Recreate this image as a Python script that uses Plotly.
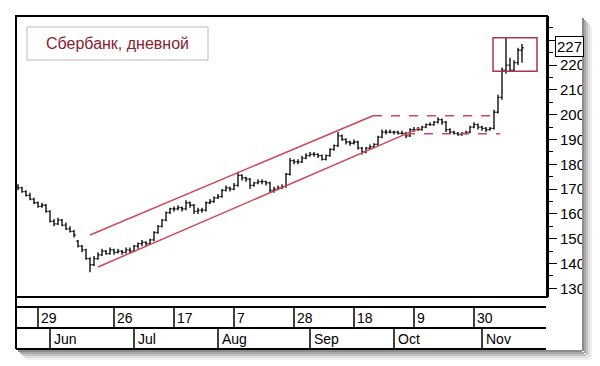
import plotly.graph_objects as go
import pandas as pd

# ---------------- data ----------------
holidays = ["2017-06-12", "2017-11-06"]
dates = [d.strftime("%Y-%m-%d") for d in pd.bdate_range("2017-05-22", "2017-11-16")
         if d.strftime("%Y-%m-%d") not in holidays]

open_ = [171, 170.5, 169, 167.5, 166, 164.5, 163, 163.5, 161, 157,
         156, 157.5, 155.5, 154, 153, 149, 147, 145.5, 142, 139.5,
         142, 143.5, 145, 144, 145.5, 144.5, 145, 144.5, 145.5, 145,
         147, 148, 148.5, 148, 149.5, 152.5, 155, 157.5, 160.5, 162,
         162, 162.5, 162, 164.5, 163.5, 161, 161.5, 161.5, 164.5, 165,
         166.5, 167, 169.5, 170.5, 170, 171.5, 175.5, 174.5, 174, 171.5,
         172.5, 173, 173, 172.5, 169.5, 170, 170.5, 171, 176, 181.5,
         181, 181, 182.5, 183.5, 184, 184, 183.5, 182, 183.5, 186,
         187.5, 191.5, 190, 189, 188.5, 189, 186.5, 185, 186.5, 187,
         188, 191, 193, 193, 193, 193, 192.5, 192.5, 191.5, 194,
         194, 194, 195, 196, 196, 197, 198, 197, 194, 193,
         192.5, 192, 192.5, 193, 195, 196, 195, 194.5, 194, 194.5,
         201, 207, 218, 220, 218, 221, 226]
high = [172, 171, 169.5, 168.5, 166.5, 165, 164.5, 164, 161.5, 158,
        158.5, 158, 156.5, 155, 153.5, 149.5, 147.5, 146, 142.5, 143,
        144.5, 146, 145.5, 146.5, 146, 146, 145.5, 146.5, 146.5, 147.5,
        148.5, 149.5, 149, 150, 153, 155.5, 158, 161, 162.5, 163,
        163.5, 163, 165.5, 165, 164, 162.5, 162.5, 165, 166, 167,
        168, 170, 171.5, 171, 172.5, 177, 176, 175, 174.5, 173,
        174, 174, 173.5, 173, 171, 171.5, 172, 176.5, 182.5, 182,
        182, 183.5, 184.5, 185, 185, 184.5, 184, 184, 186.5, 188,
        193, 192, 190.5, 189.5, 190, 189.5, 187, 187, 188, 188.5,
        191.5, 194, 194, 194, 193.5, 193.5, 193.5, 193, 194.5, 195,
        195, 195.5, 196.5, 197, 197.5, 199, 198.5, 197.5, 194.5, 193.5,
        193, 193, 193.5, 195.5, 197, 196.5, 195.5, 195, 195, 202,
        208, 219, 231, 223, 222, 227, 228.5]
low = [169.5, 168.5, 167, 165.5, 164, 162.5, 162.5, 160.5, 156.5, 155,
       155.5, 155, 153.5, 152.5, 150.5, 146.5, 144.5, 141.5, 136.5, 139,
       141.5, 143, 143.5, 143.5, 143.5, 144, 143.5, 144, 144, 144.5,
       146, 147, 147, 147.5, 149, 152, 154.5, 157, 160, 161,
       161.5, 161, 161.5, 162.5, 160, 160, 160.5, 161, 164, 164.5,
       166, 166.5, 169, 169, 169.5, 171, 173.5, 173, 170, 171,
       172, 172, 171.5, 168.5, 168.5, 169.5, 170, 170.5, 175.5, 180,
       180, 180.5, 182, 183, 183, 182.5, 181.5, 181.5, 183, 185.5,
       187, 189.5, 188, 187.5, 188, 186, 184, 184.5, 186, 186.5,
       187.5, 190.5, 192, 192.5, 192, 192, 192, 190.5, 191, 193,
       193.5, 193.5, 194.5, 195.5, 195.5, 196.5, 196, 193, 192.5, 192,
       191.5, 191.5, 192, 192.5, 194.5, 194, 193.5, 193, 193.5, 194,
       200.5, 206, 216.5, 217.5, 217.5, 220, 221]
close = [170.5, 169, 167.5, 166, 164.5, 163, 163.5, 161, 157, 156,
         157.5, 155.5, 154, 153, 151.5, 147, 145.5, 142, 139.5, 142,
         143.5, 145, 144, 145.5, 144.5, 145, 144.5, 145.5, 145, 147,
         148, 148.5, 148, 149.5, 152.5, 155, 157.5, 160.5, 162, 162,
         162.5, 162, 164.5, 163.5, 161, 161.5, 161.5, 164.5, 165, 166.5,
         167, 169.5, 170.5, 170, 171.5, 175.5, 174.5, 174, 171.5, 172.5,
         173, 173, 172.5, 169.5, 170, 170.5, 171, 176, 181.5, 181,
         181, 182.5, 183.5, 184, 184, 183.5, 182, 183.5, 186, 187.5,
         191.5, 190, 189, 188.5, 189, 186.5, 185, 186.5, 187, 188,
         191, 193, 193, 193, 193, 192.5, 192.5, 191.5, 194, 194,
         194, 195, 196, 196, 197, 198, 197, 194, 193, 192.5,
         192, 192.5, 193, 195, 196, 195, 194.5, 194, 194.5, 201,
         207, 218, 220, 218, 221, 226, 227]

# price scale labels (230 is hidden behind the last-price box)
price_ticks = [130, 140, 150, 160, 170, 180, 190, 200, 210, 220, 230]
price_tick_labels = ["130", "140", "150", "160", "170", "180", "190", "200", "210", "220", ""]

# date scale labels
day_tick_dates = ["2017-05-29", "2017-06-26", "2017-07-17", "2017-08-07",
                  "2017-08-28", "2017-09-18", "2017-10-09", "2017-10-30"]
day_tick_labels = ["29", "26", "17", "7", "28", "18", "9", "30"]
month_tick_dates = ["2017-06-01", "2017-07-03", "2017-08-01", "2017-09-01",
                    "2017-10-02", "2017-11-01"]
month_tick_labels = ["Jun", "Jul", "Aug", "Sep", "Oct", "Nov"]

# drawn studies (bar index, price)
upper_channel = [(18, 151.5), (88.75, 199.6)]
lower_channel = [(20, 138.6), (100.5, 194.7)]
resistance = [(88.75, 199.6), (119.25, 199.6)]
support = [(97, 192.3), (120.5, 192.3)]
breakout_box = [(118.75, 217.5), (129.75, 231.0)]
last_price = 227
title_text = "Сбербанк, дневной"

# ---------------- figure ----------------
L, R, T, B = 16, 547, 16, 297   # plot area in pixels
W, H = 600, 366


def px(x):
    return (x - L) / (R - L)


def py(y):
    return (B - y) / (B - T)


RED = "#cc4a5c"
FONT = "Liberation Sans, Arial, sans-serif"

fig = go.Figure()
fig.add_trace(go.Ohlc(
    x=dates, open=open_, high=high, low=low, close=close,
    increasing=dict(line=dict(color="black", width=1.3)),
    decreasing=dict(line=dict(color="black", width=1.3)),
    tickwidth=0.4, hoverinfo="skip", showlegend=False,
))

shapes = []
for (p0, p1), dash in [((upper_channel[0], upper_channel[1]), "solid"),
                       ((lower_channel[0], lower_channel[1]), "solid"),
                       ((resistance[0], resistance[1]), "dash"),
                       ((support[0], support[1]), "dash")]:
    shapes.append(dict(type="line", xref="x", yref="y", x0=p0[0], y0=p0[1],
                       x1=p1[0], y1=p1[1],
                       line=dict(color=RED, width=1.5, dash=dash)))
shapes.append(dict(type="rect", xref="x", yref="y",
                   x0=breakout_box[0][0], y0=breakout_box[0][1],
                   x1=breakout_box[1][0], y1=breakout_box[1][1],
                   line=dict(color="#a8374a", width=1.5)))

# plot frame
shapes.append(dict(type="rect", xref="paper", yref="paper", x0=0, y0=0, x1=1, y1=1,
                   line=dict(color="black", width=2), layer="above"))
# title box
shapes.append(dict(type="rect", xref="paper", yref="paper",
                   x0=px(27), x1=px(208), y0=py(60), y1=py(27),
                   line=dict(color="#c4b6b9", width=1), layer="above"))

# date panel
for yy in (307, 328, 349):
    shapes.append(dict(type="line", xref="paper", yref="paper",
                       x0=px(16), x1=px(546), y0=py(yy), y1=py(yy),
                       line=dict(color="black", width=2)))
shapes.append(dict(type="line", xref="paper", yref="paper",
                   x0=0, x1=0, y0=py(349), y1=0,
                   line=dict(color="black", width=2)))
annotations = []
for d, lab in zip(day_tick_dates, day_tick_labels):
    i = dates.index(d)
    shapes.append(dict(type="line", xref="x", yref="paper", x0=i, x1=i,
                       y0=py(328), y1=py(307), line=dict(color="black", width=1.5)))
    annotations.append(dict(xref="x", yref="paper", x=i, y=py(318), text=lab,
                            xanchor="left", yanchor="middle", xshift=1,
                            showarrow=False, font=dict(family=FONT, size=14, color="black")))
for d, lab in zip(month_tick_dates, month_tick_labels):
    i = dates.index(d)
    shapes.append(dict(type="line", xref="x", yref="paper", x0=i, x1=i,
                       y0=py(349), y1=py(328), line=dict(color="black", width=1.5)))
    annotations.append(dict(xref="x", yref="paper", x=i, y=py(339), text=lab,
                            xanchor="left", yanchor="middle", xshift=2,
                            showarrow=False, font=dict(family=FONT, size=14, color="black")))

# window edge (clips axis labels) and drop shadow
shapes.append(dict(type="rect", xref="paper", yref="paper",
                   x0=px(582), x1=px(601), y0=py(367), y1=py(-1),
                   fillcolor="white", line=dict(width=0), layer="above"))
shapes.append(dict(type="rect", xref="paper", yref="paper",
                   x0=px(-1), x1=px(601), y0=py(367), y1=py(350),
                   fillcolor="white", line=dict(width=0), layer="above"))
for k, col in enumerate(["#8c8c8c", "#a8a8a8", "#c4c4c4", "#dedede", "#efefef"]):
    shapes.append(dict(type="rect", xref="paper", yref="paper",
                       x0=px(582 + 2 * k), x1=px(584 + 2 * k), y0=py(351 + 2 * k), y1=py(18 + 2 * k),
                       fillcolor=col, line=dict(width=0), layer="above"))
    shapes.append(dict(type="rect", xref="paper", yref="paper",
                       x0=px(18 + 2 * k), x1=px(582 + 2 * k), y0=py(352 + 2 * k), y1=py(350 + 2 * k),
                       fillcolor=col, line=dict(width=0), layer="above"))

annotations.append(dict(xref="paper", yref="paper", x=px(117.5), y=py(43.5),
                        xanchor="center", yanchor="middle",
                        text=title_text, showarrow=False,
                        font=dict(family=FONT, size=16, color="#8a2233")))
annotations.append(dict(xref="paper", yref="y", x=px(555), y=last_price + 0.7,
                        text=str(last_price), xanchor="left", yanchor="middle",
                        showarrow=False, bgcolor="white", bordercolor="black",
                        borderwidth=1, borderpad=1,
                        font=dict(family=FONT, size=15, color="black")))

fig.update_layout(
    width=W, height=H,
    margin=dict(l=L, r=W - R, t=T, b=H - B, pad=0),
    paper_bgcolor="white", plot_bgcolor="white",
    showlegend=False,
    xaxis=dict(type="category", range=[-0.5, 132.25], showticklabels=False,
               ticks="", showgrid=False, zeroline=False, showline=False,
               rangeslider=dict(visible=False), fixedrange=True),
    yaxis=dict(side="right", range=[126.5, 239.8],
               tickmode="array", tickvals=price_ticks, ticktext=price_tick_labels,
               ticks="outside", ticklen=8, tickwidth=1, tickcolor="black",
               minor=dict(tick0=130, dtick=5, ticks="outside", ticklen=4,
                          tickcolor="black", tickwidth=1),
               showgrid=False, zeroline=False, showline=True, linecolor="black",
               linewidth=2, automargin=False,
               tickfont=dict(family=FONT, size=15, color="black")),
    shapes=shapes, annotations=annotations,
)

fig.write_html("out.html")
